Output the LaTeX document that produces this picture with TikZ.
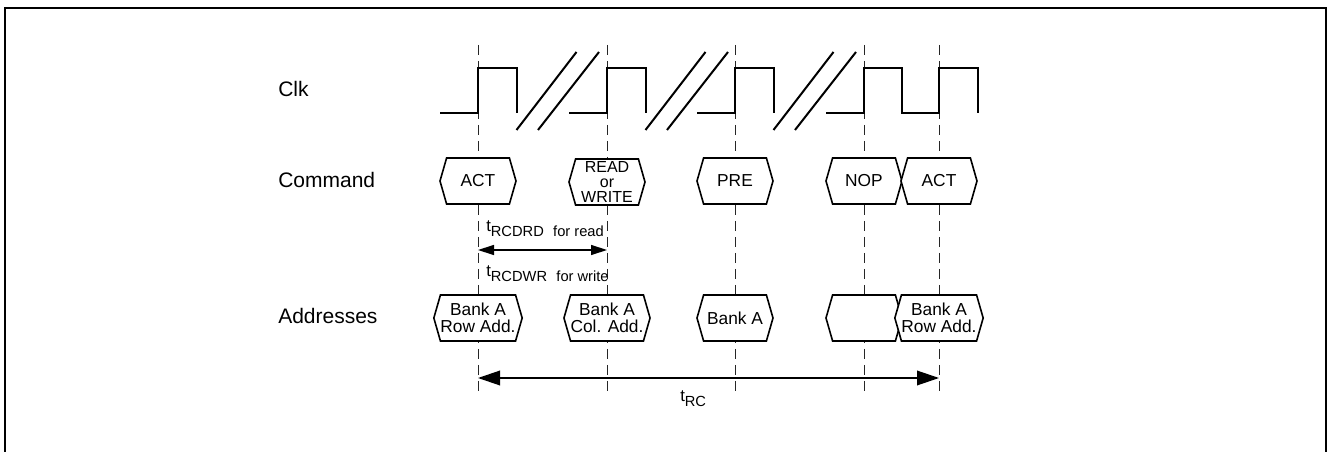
\documentclass[tikz,border=0pt]{standalone}
\usepackage{fontspec}
\setmainfont{Liberation Sans}
\usetikzlibrary{shapes.symbols,arrows.meta}

\newcommand{\tsub}[1]{t\raisebox{-3.75pt}{\fontsize{11}{12}\selectfont #1}}

\tikzset{
  wave/.style={line width=1.5pt},
  guide/.style={dash pattern=on 7.5pt off 4.5pt, line width=0.75pt, black!85},
  bus/.style={draw, fill=white, line width=1.2pt, shape=signal, signal to=east and west,
    signal pointer angle=148, minimum width=57pt, minimum height=34.5pt, inner sep=0pt,
    align=center, font=\fontsize{13}{12.75}\selectfont},
  tight/.style={bus, font=\fontsize{12}{11.4}\selectfont},
  sig/.style={anchor=base west, inner sep=0pt, font=\fontsize{15.75}{18}\selectfont},
  timing/.style={anchor=base west, inner sep=0pt, font=\fontsize{12.5}{14}\selectfont},
  span/.style={line width=1pt, {Triangle[length=12pt,width=7.5pt]}-{Triangle[length=12pt,width=7.5pt]}},
  longspan/.style={line width=1pt, {Triangle[length=16.5pt,width=11pt]}-{Triangle[length=16.5pt,width=11pt]}},
}

\begin{document}
\begin{tikzpicture}[x=0.75pt, y=-0.75pt]
\useasboundingbox (0,0) rectangle (1329,452);

% Frame
\draw[line width=1.1pt] (5,452) -- (5,8) -- (1326,8) -- (1326,452);

% Clock edges
\foreach \n/\x in {1/478,2/607,3/735,4/864,5/939} {
  \coordinate (top\n) at (\x,45);
  \coordinate (bot\n) at (\x,393);
  \draw[guide] (top\n) -- (bot\n);
}

% Signal names
\node[sig] (clk) at (278,97) {Clk};
\node[sig] (cmd) at (278,188) {Command};
\node[sig] (adr) at (278,324) {Addresses};

% Clk
\foreach \e in {478,607,735} {
  \draw[wave] (\e-38,113) -- (\e,113) -- (\e,68) -- (\e+38.5,68) -- (\e+38.5,113);
  \draw[wave] (\e+38.5,130) -- (\e+98.5,52);
  \draw[wave] (\e+60,130) -- (\e+121,52);
}
\draw[wave] (826,113) -- (864,113) -- (864,68) -- (902,68) -- (902,113)
  -- (939,113) -- (939,68) -- (978,68) -- (978,113);

% Command
\node[bus] (act) at (478,181) {ACT};
\node[tight] (rdwr) at (607,182) {READ\\or\\WRITE};
\node[bus] (pre) at (735,181) {PRE};
\node[bus] (nop) at (864,181) {NOP};
\node[bus] (act2) at (939,181) {ACT};

% Addresses
\node[bus] (row) at (478,318) {Bank A\\Row Add.};
\node[bus] (col) at (607,318) {Bank A\\Col. Add.};
\node[bus] (bank) at (735,318) {Bank A};
\node[bus] (none) at (864,318) {};
\node[bus] (row2) at (939,318) {Bank A\\Row Add.};

% tRCD
\coordinate (rcdA) at (478,250);
\coordinate (rcdB) at (607,250);
\draw[span] (rcdA) -- (rcdB);
\node[timing] (rcdrd) at (486,232) {\tsub{RCDRD\hspace{7pt}for read}};
\node[timing] (rcdwr) at (486,277) {\tsub{RCDWR\hspace{7pt}for write}};

% tRC
\coordinate (rcA) at (478,378);
\coordinate (rcB) at (939,378);
\draw[longspan] (rcA) -- (rcB);
\node[timing] (rc) at (680,402) {\tsub{RC}};
\end{tikzpicture}
\end{document}
